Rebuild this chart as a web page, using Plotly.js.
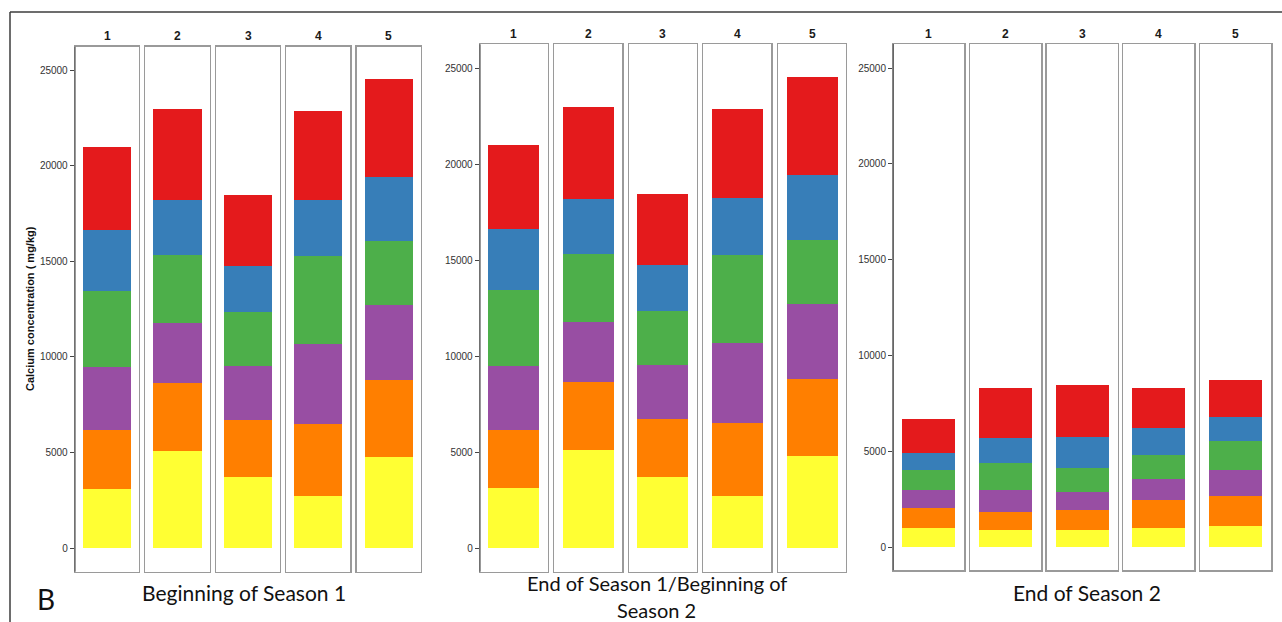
<!DOCTYPE html>
<html>
<head>
<meta charset="utf-8">
<script src="https://cdn.plot.ly/plotly-3.0.1.min.js"></script>
<style>
  html, body { margin: 0; padding: 0; background: #ffffff; }
  #chart { width: 1282px; height: 622px; }
</style>
</head>
<body>
<div id="chart"></div>
<script>
// Calcium fractions (mg/kg) in five plots, stacked from the bottom up.
const plots = ['1', '2', '3', '4', '5'];
const fractions = ['Fraction 1', 'Fraction 2', 'Fraction 3', 'Fraction 4', 'Fraction 5', 'Fraction 6'];
const fractionColors = ['#FFFF33', '#FF7F00', '#984EA3', '#4DAF4A', '#377EB8', '#E41A1C'];
const yTicks = [0, 5000, 10000, 15000, 20000, 25000];

// each caption is a list of lines
const panelTitles = [
  ['Beginning of Season 1'],
  ['End of Season 1/Beginning of', 'Season 2'],
  ['End of Season 2']
];

// Beginning of Season 1: one array per fraction, one value per plot
const s1StartF1 = [3110, 5100, 3720, 2710, 4780];
const s1StartF2 = [3050, 3530, 2990, 3780, 4040];
const s1StartF3 = [3300, 3130, 2805, 4210, 3895];
const s1StartF4 = [3970, 3560, 2815, 4570, 3360];
const s1StartF5 = [3220, 2860, 2420, 2960, 3355];
const s1StartF6 = [4330, 4790, 3710, 4650, 5100];

// End of Season 1 / Beginning of Season 2
const s1EndF1 = [3110, 5100, 3720, 2710, 4780];
const s1EndF2 = [3050, 3530, 2990, 3780, 4040];
const s1EndF3 = [3300, 3130, 2805, 4210, 3895];
const s1EndF4 = [3970, 3560, 2815, 4570, 3360];
const s1EndF5 = [3220, 2860, 2420, 2960, 3355];
const s1EndF6 = [4330, 4790, 3710, 4650, 5100];

// End of Season 2
const s2EndF1 = [1010, 905, 905, 975, 1115];
const s2EndF2 = [1010, 905, 1010, 1480, 1550];
const s2EndF3 = [940, 1170, 940, 1080, 1340];
const s2EndF4 = [1060, 1390, 1290, 1275, 1515];
const s2EndF5 = [890, 1340, 1620, 1390, 1270];
const s2EndF6 = [1760, 2580, 2665, 2125, 1950];

const panelData = [
  [s1StartF1, s1StartF2, s1StartF3, s1StartF4, s1StartF5, s1StartF6],
  [s1EndF1, s1EndF2, s1EndF3, s1EndF4, s1EndF5, s1EndF6],
  [s2EndF1, s2EndF2, s2EndF3, s2EndF4, s2EndF5, s2EndF6]
];

// ---- geometry (pixels in a 1282 x 622 page) ----
const W = 1282, H = 622;
const facetX = [
  [[75, 139], [145.3, 209.7], [216, 280], [286.3, 350.3], [356.7, 421]],
  [[480, 547.7], [554.3, 622.3], [629, 696.7], [703.3, 771.3], [778, 846]],
  [[893.3, 964.3], [970, 1041.3], [1046.7, 1117.7], [1123.3, 1194.3], [1200, 1271.3]]
];
const facetY = [[46.7, 571.7], [44.3, 571.7], [44, 570.3]];
const yRanges = [[-1223, 26218], [-1235, 26251], [-1216, 26253]];
const stripY = [36, 34, 34];

const px = v => v / W;
const py = v => 1 - v / H;

const traces = [];
const layout = {
  width: W, height: H,
  margin: {l: 0, r: 0, t: 0, b: 0},
  paper_bgcolor: '#ffffff',
  plot_bgcolor: '#ffffff',
  showlegend: false,
  barmode: 'stack',
  bargap: 0,
  font: {family: 'Liberation Sans, Arial, sans-serif', color: '#333333'},
  annotations: [],
  shapes: []
};

let n = 0;
for (let p = 0; p < 3; p++) {
  for (let f = 0; f < plots.length; f++) {
    n += 1;
    const xa = 'x' + (n === 1 ? '' : n);
    const ya = 'y' + (n === 1 ? '' : n);
    const xk = 'xaxis' + (n === 1 ? '' : n);
    const yk = 'yaxis' + (n === 1 ? '' : n);

    for (let s = 0; s < fractions.length; s++) {
      traces.push({
        type: 'bar',
        name: fractions[s],
        x: [1],
        y: [panelData[p][s][f]],
        width: 0.9,
        xaxis: xa,
        yaxis: ya,
        marker: {color: fractionColors[s], line: {width: 0}},
        hovertemplate: 'Plot ' + plots[f] + '<br>' + fractions[s] + ': %{y}<extra></extra>'
      });
    }

    const first = f === 0;
    layout[xk] = {
      domain: [px(facetX[p][f][0]), px(facetX[p][f][1])],
      range: [0.4, 1.6],
      anchor: ya,
      showticklabels: false,
      ticks: '',
      showgrid: false,
      zeroline: false,
      showline: true,
      mirror: true,
      linecolor: '#9a9a9a',
      linewidth: 1.3,
      fixedrange: true
    };
    layout[yk] = {
      domain: [py(facetY[p][1]), py(facetY[p][0])],
      range: yRanges[p],
      anchor: xa,
      showgrid: false,
      zeroline: false,
      showline: true,
      mirror: true,
      linecolor: '#9a9a9a',
      linewidth: 1.3,
      showticklabels: first,
      ticks: first ? 'outside' : '',
      ticklen: 4,
      tickwidth: 1,
      tickcolor: '#444444',
      tickvals: yTicks,
      tickformat: 'd',
      tickfont: {family: 'Liberation Sans, Arial, sans-serif', size: 10, color: '#333333'},
      fixedrange: true
    };

    // strip label above each facet
    layout.annotations.push({
      text: '<b>' + plots[f] + '</b>',
      xref: 'paper', yref: 'paper',
      x: px((facetX[p][f][0] + facetX[p][f][1]) / 2),
      y: py(stripY[p]),
      xanchor: 'center', yanchor: 'middle',
      showarrow: false,
      font: {family: 'Liberation Sans, Arial, sans-serif', size: 12, color: '#1a1a1a'}
    });

    // darker left edge on the facet carrying the value axis
    if (first) {
      layout.shapes.push({
        type: 'line', xref: 'paper', yref: 'paper',
        x0: px(facetX[p][f][0]), x1: px(facetX[p][f][0]),
        y0: py(facetY[p][1]), y1: py(facetY[p][0]),
        line: {color: '#555555', width: 1.2}
      });
    }
  }
}

// value-axis title
layout.annotations.push({
  text: '<b>Calcium concentration ( mg/kg)</b>',
  xref: 'paper', yref: 'paper',
  x: px(30), y: py(309),
  xanchor: 'center', yanchor: 'middle',
  textangle: -90,
  showarrow: false,
  font: {family: 'Liberation Sans, Arial, sans-serif', size: 11, color: '#111111'}
});

// panel captions, one annotation per line; two-line captions are stacked
// around a shared baseline so the lines sit close together
const captionX = [244, 657, 1086.5];
const captionY = [592, 596, 592];
for (let p = 0; p < 3; p++) {
  const lines = panelTitles[p];
  lines.forEach((line, i) => {
    const single = lines.length === 1;
    layout.annotations.push({
      text: line,
      xref: 'paper', yref: 'paper',
      x: px(captionX[p]), y: py(captionY[p] + (single ? 0 : (i === 0 ? -0.5 : 0.5))),
      xanchor: 'center',
      yanchor: single ? 'middle' : (i === 0 ? 'bottom' : 'top'),
      borderpad: 0,
      showarrow: false,
      font: {family: 'Lato, Carlito, sans-serif', size: single ? 21 : 20, color: '#111111'}
    });
  });
}

// panel letter
layout.annotations.push({
  text: 'B',
  xref: 'paper', yref: 'paper',
  x: px(46), y: py(599),
  xanchor: 'center', yanchor: 'middle',
  showarrow: false,
  font: {family: 'Lato, Carlito, sans-serif', size: 28, color: '#111111'}
});

// figure frame (top and left edges)
layout.shapes.push({
  type: 'line', xref: 'paper', yref: 'paper',
  x0: px(10), x1: 1, y0: py(12), y1: py(12),
  line: {color: '#3c3c3c', width: 1.5}
});
layout.shapes.push({
  type: 'line', xref: 'paper', yref: 'paper',
  x0: px(10), x1: px(10), y0: py(12), y1: 0,
  line: {color: '#3c3c3c', width: 1.5}
});

Plotly.newPlot('chart', traces, layout, {displayModeBar: false, staticPlot: true});
</script>
</body>
</html>
